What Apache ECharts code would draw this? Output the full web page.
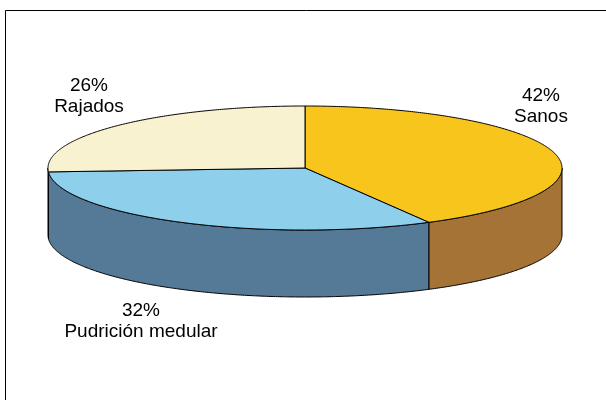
<!DOCTYPE html>
<html>
<head>
<meta charset="utf-8">
<script src="https://cdn.jsdelivr.net/npm/echarts@6/dist/echarts.min.js"></script>
<style>
html, body { margin: 0; padding: 0; background: #fff; }
#chart { width: 606px; height: 400px; }
</style>
</head>
<body>
<div id="chart"></div>
<script>
// Share of logs by condition (%)
const categories = ['Sanos', 'Pudrición medular', 'Rajados'];
const shares = [42, 32, 26];
const percentLabels = ['42%', '32%', '26%'];

// Styling: top face and rim colours per slice, caption anchors in pixels
const topColors = ['#F8C51C', '#8ECFEC', '#F8F2D0'];
const sideColors = ['#A57335', '#557A97', '#C9C09A'];
const labelAnchors = [[541, 106], [141, 321], [89, 96]];

// Tilted disc geometry
const CX = 305, CY = 168, RX = 257, RY = 62, DEPTH = 67;

const total = shares.reduce((a, b) => a + b, 0);
const cumulative = [];
let acc = 0;
shares.forEach(v => { cumulative.push(acc); acc += v; });

// angle t in degrees, clockwise from 12 o'clock
function pt(t, dy) {
  const r = t * Math.PI / 180;
  return [CX + RX * Math.sin(r), CY - RY * Math.cos(r) + (dy || 0)];
}
function arc(a, b, dy) {
  const pts = [];
  const n = Math.max(2, Math.ceil(Math.abs(b - a) / 0.5));
  for (let i = 0; i <= n; i++) pts.push(pt(a + (b - a) * i / n, dy));
  return pts;
}

const chart = echarts.init(document.getElementById('chart'), null, { renderer: 'canvas' });

chart.setOption({
  animation: false,
  backgroundColor: '#ffffff',
  graphic: [{
    type: 'rect',
    shape: { x: 5.5, y: 10.5, width: 700, height: 500 },
    style: { fill: 'none', stroke: '#000', lineWidth: 1 },
    silent: true
  }],
  series: [{
    type: 'custom',
    coordinateSystem: 'none',
    silent: true,
    data: categories.map((name, i) => ({ name, value: [shares[i], cumulative[i]] })),
    renderItem: function (params, api) {
      const i = params.dataIndex;
      const v = api.value(0);
      const a = api.value(1) / total * 360;
      const b = a + v / total * 360;
      const children = [];
      // visible rim: the front half of the disc (90°..270°)
      const fa = Math.max(a, 90), fb = Math.min(b, 270);
      if (fb > fa) {
        const pts = arc(fa, fb, 0).concat(arc(fa, fb, DEPTH).reverse());
        children.push({
          type: 'polygon', z2: 1,
          shape: { points: pts },
          style: { fill: sideColors[i], stroke: '#000', lineWidth: 1, lineJoin: 'round' }
        });
      }
      // top face
      children.push({
        type: 'polygon', z2: 2,
        shape: { points: [[CX, CY]].concat(arc(a, b, 0)) },
        style: { fill: topColors[i], stroke: '#000', lineWidth: 1, lineJoin: 'round' }
      });
      // caption
      children.push({
        type: 'text', z2: 3,
        style: {
          text: percentLabels[i] + '\n' + categories[i],
          x: labelAnchors[i][0], y: labelAnchors[i][1],
          align: 'center', verticalAlign: 'middle',
          font: '19px "Liberation Sans", Arial, sans-serif',
          lineHeight: 21,
          fill: '#000'
        }
      });
      return { type: 'group', children };
    }
  }]
});
</script>
</body>
</html>
